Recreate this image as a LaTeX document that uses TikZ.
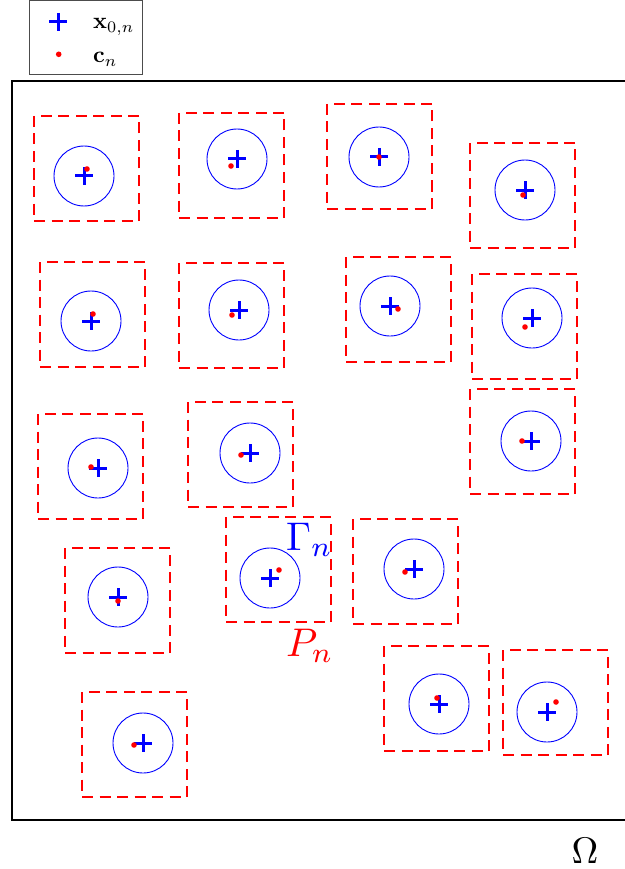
\documentclass[tikz,border=0pt]{standalone}
\usepackage{amsmath}
\usepackage{graphicx}
\begin{document}
\begin{tikzpicture}[x=1pt,y=-1pt,
  patch/.style={draw=red, line width=1.2pt, dash pattern=on 11pt off 6.5pt},
  circ/.style={draw=blue, line width=0.9pt},
  crossmark/.style={draw=blue, line width=3pt},
  dotmark/.style={fill=red},
  frame/.style={draw=black, line width=2.2pt},
  legendbox/.style={draw=black!70, line width=0.9pt},
  txt/.style={inner sep=0pt}]
\useasboundingbox (0,0) rectangle (624,869);

% domain Omega
\draw[frame] (630,81) -- (12,81) -- (12,820) -- (630,820);

% patches: square top-left x,y ; centre x,y ; dot x,y
\foreach \sx/\sy/\cx/\cy/\dx/\dy in {
  34/116/84/176/87/169,
  179/113/237/159/231/166,
  327/104/379/157/379/157,
  470/143/525/190/523/195,
  40/262/91/321/93/314,
  179/263/239/310/232/315,
  346/257/390/306/398/309,
  472/274/532/318/525/327,
  38/414/98/468/91/467,
  188/402/250/453/241/455,
  470/389/531/441/522/441,
  65/548/118/597/118/601,
  226/517/270/578/279/570,
  353/519/414/569/405/572,
  384/646/439/704/437/698,
  503/650/547/712/556/702,
  82/692/143/743/134/745}
{
  \draw[patch] (\sx,\sy) rectangle ++(105,105);
  \draw[circ] (\cx,\cy) circle (30);
  \draw[crossmark] (\cx-9,\cy) -- (\cx+9,\cy) (\cx,\cy-9) -- (\cx,\cy+9);
  \fill[dotmark] (\dx,\dy) circle (2.8);
}

% labels
\node[txt, anchor=base west, text=blue] (gamma) at (286,550) {\scalebox{4}{$\Gamma_n$}};
\node[txt, anchor=base west, text=red] (pn) at (286,656) {\scalebox{4}{$P_n$}};
\node[txt, anchor=base] (omega) at (585,863) {\scalebox{3.7}{$\Omega$}};

% legend
\draw[legendbox] (29.5,0.5) rectangle (142.5,74);
\draw[crossmark] (49,22) -- (67,22) (58,13) -- (58,31);
\fill[dotmark] (58.7,54.3) circle (2.8);
\node[txt, anchor=base west] (lx) at (93,29) {\scalebox{2.3}{$\mathbf{x}_{0,n}$}};
\node[txt, anchor=base west] (lc) at (93,63) {\scalebox{2.3}{$\mathbf{c}_n$}};
\end{tikzpicture}
\end{document}
